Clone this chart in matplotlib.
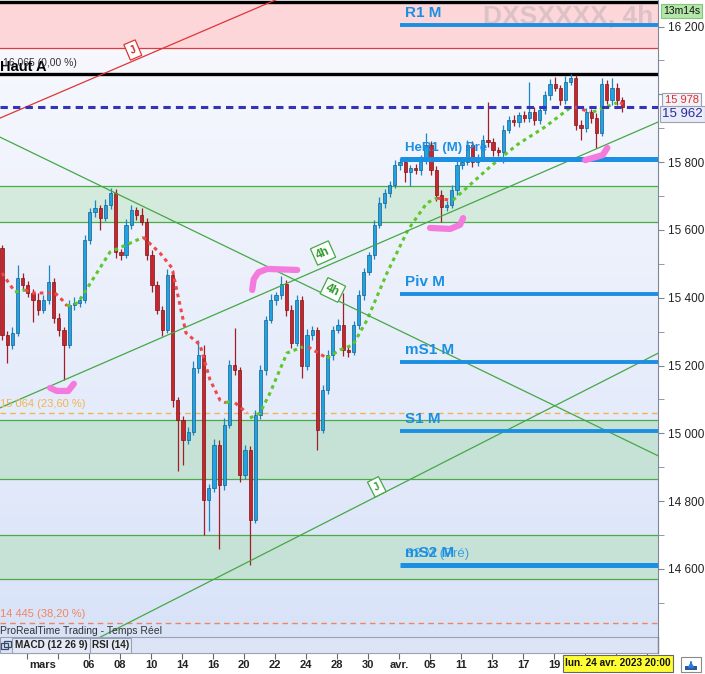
import matplotlib
matplotlib.use("Agg")
import matplotlib.pyplot as plt
import matplotlib.transforms as mtransforms
from matplotlib.patches import Rectangle
from matplotlib.colors import LinearSegmentedColormap
import numpy as np

plt.rcParams['font.family'] = ['Liberation Sans', 'DejaVu Sans']

# ---- candles (4h, three per trading day) ----
first_open = 15547
closes = [
    15290, 15261, 15296, 15458, 15438, 15414, 15394, 15364, 15394, 15447,
    15340, 15305, 15261, 15379, 15385, 15394, 15570, 15653, 15665, 15635,
    15674, 15709, 15535, 15526, 15615, 15659, 15644, 15624, 15526, 15438,
    15364, 15305, 15467, 15098, 15040, 14981, 15004, 15193, 15231, 14803,
    14839, 14966, 14848, 15025, 15202, 15187, 14877, 14951, 14745, 15054,
    15187, 15334, 15394, 15408, 15441, 15364, 15267, 15394, 15199, 15290,
    15305, 15010, 15128, 15231, 15305, 15320, 15246, 15240, 15320, 15408,
    15476, 15526, 15615, 15680, 15709, 15733, 15792, 15801, 15771, 15783,
    15777, 15806, 15851, 15777, 15703, 15668, 15674, 15718, 15792, 15801,
    15851, 15801, 15815, 15865, 15860, 15836, 15830, 15895, 15924, 15919,
    15939, 15930, 15948, 15924, 15954, 15998, 16031, 16019, 15983, 16037,
    16048, 15910, 15901, 15948, 15930, 15886, 16031, 15983, 16019, 15983,
    15962]
hi_wick = [
    10, 12, 18, 38, 15, 10, 12, 20, 15, 50,
    12, 15, 10, 14, 18, 10, 15, 12, 24, 10,
    16, 15, 12, 10, 18, 14, 10, 20, 12, 15,
    10, 12, 18, 15, 10, 12, 15, 20, 45, 30,
    12, 18, 15, 20, 14, 110, 10, 15, 12, 16,
    14, 12, 18, 10, 24, 12, 15, 14, 10, 18,
    12, 10, 15, 14, 12, 18, 95, 12, 10, 15,
    12, 10, 14, 16, 12, 10, 15, 12, 14, 10,
    12, 15, 35, 10, 12, 14, 10, 15, 12, 10,
    14, 12, 10, 15, 112, 12, 10, 14, 12, 16,
    10, 12, 88, 14, 10, 12, 15, 20, 10, 18,
    12, 10, 14, 12, 10, 15, 18, 12, 30, 14,
    10]
lo_wick = [
    15, 53, 12, 10, 15, 12, 65, 14, 10, 12,
    15, 18, 103, 10, 14, 12, 10, 12, 15, 35,
    10, 12, 18, 15, 10, 12, 14, 10, 15, 20,
    12, 18, 10, 20, 150, 75, 12, 10, 15, 103,
    90, 12, 190, 15, 10, 14, 20, 12, 133, 10,
    12, 14, 10, 15, 12, 18, 14, 10, 35, 12,
    15, 60, 10, 12, 14, 10, 18, 15, 10, 12,
    14, 10, 12, 10, 15, 12, 10, 14, 30, 40,
    12, 15, 10, 14, 18, 45, 12, 10, 14, 12,
    10, 15, 12, 10, 14, 18, 12, 32, 10, 12,
    14, 10, 12, 15, 10, 12, 14, 10, 15, 12,
    10, 14, 35, 12, 15, 45, 10, 12, 14, 15,
    14]

# trading-day index of the date labels (day 0 = 27 Feb)
label_days = [2, 5, 7, 9, 11, 13, 15, 17, 19, 21, 23, 25, 27, 29, 31, 33, 35]
label_text = ["mars", "06", "08", "10", "14", "16", "20", "22", "24", "28",
              "30", "avr.", "05", "11", "13", "17", "19"]
tick_days = list(range(1, 42, 2))

# monthly pivots (drawn from April)
apr_start = 77
piv_names = ["R1 M", "HeR1 (M) Pré", "Piv M", "mS1 M", "S1 M", "mS2 M"]
piv_vals = [16205, 15809, 15411, 15210, 15007, 14612]
piv_lw = [2.8, 3.6, 2.8, 2.8, 2.8, 3.6]

# zones
green_zones = [(15624, 15730), (14865, 15040), (14570, 14700)]
green_fill = ['#d3eadc', '#c6e2d7', '#c6e2d7']
red_zone = (16137, 16272)
haut_a = 16060
last_price = 15962
other_price = 15978
fib_vals = [15060, 14440]
fib_text = ["15 064 (23,60 %)", "14 445 (38,20 %)"]
fib_cols = ['#f2b452', '#ef8562']

# trend lines: (x0, y0, x1, y1)
green_lines = [(-0.4, 15874, 127, 14933),
               (-0.4, 15075, 127, 15919),
               (-0.4, 14248, 127, 15237)]
red_line = (-0.4, 15930, 60, 16325)

# moving stop (dotted), coloured segments
sar_segments = [
    ('r', [0, 2.51], [15473, 15417]),
    ('g', [2.51, 4.45], [15417, 15423]),
    ('r', [4.45, 6.0, 10.25, 11.6, 12.57], [15423, 15414, 15414, 15394, 15376]),
    ('g', [12.57, 14.7, 20.9, 26.1, 27.27], [15376, 15385, 15535, 15570, 15579]),
    ('r', [27.27, 30.56, 32.88, 35.59, 38.3, 40.23, 42.17, 43.33],
          [15579, 15532, 15488, 15296, 15261, 15158, 15098, 15090]),
    ('g', [43.33, 44.49], [15090, 15098]),
    ('r', [45.07, 47.39], [15090, 15060]),
    ('g', [47.97, 49.9, 51.84, 55.13, 58.22], [15045, 15060, 15119, 15237, 15255]),
    ('r', [59.19, 62.86], [15255, 15222]),
    ('g', [62.86, 65.38, 67.89, 70.6, 74.47, 78.53, 82.2, 84.14],
          [15222, 15246, 15261, 15334, 15473, 15600, 15680, 15694]),
    ('r', [84.14, 86.65], [15694, 15688]),
    ('g', [87.23, 94.39, 99.61, 105.03, 109.86], [15688, 15786, 15851, 15904, 15960]),
    ('r', [110.83, 113.73], [15963, 15948]),
    ('g', [114.31, 118.96], [15948, 15975]),
    ('r', [119.54, 120.12], [15975, 15972]),
]

# hand-drawn highlight strokes
pink_marks = [
    ([9.3, 10.6, 12.8, 13.9], [15134, 15125, 15125, 15146]),
    ([48.4, 48.7, 49.6, 51.3, 57.1], [15423, 15455, 15475, 15485, 15482]),
    ([82.8, 86.7, 88.6, 89.2], [15606, 15603, 15615, 15635]),
    ([112.8, 116.2, 117.1], [15806, 15821, 15842]),
]

xmin, xmax = -0.39, 126.9
ymin, ymax = 14399, 16278.5

fig = plt.figure(figsize=(7.05, 6.74), dpi=100)
ax = fig.add_axes([0, 37 / 674, 658 / 705, 637 / 674])

# background gradient
grad = np.linspace(0, 1, 256).reshape(-1, 1)
cmap = LinearSegmentedColormap.from_list('bg', ['#d9e3f8', '#f9fafe'])
ax.imshow(grad, extent=[xmin, xmax, ymin, ymax], aspect='auto', cmap=cmap,
          origin='lower', zorder=0)

ax.axhspan(red_zone[0], red_zone[1], color='#fdd6da', zorder=1, lw=0)
ax.axhline(red_zone[0], color='#e0393e', lw=0.9, zorder=2)
ax.axhline(red_zone[1], color='black', lw=2.4, zorder=2)
ax.axhline(haut_a, color='black', lw=2.4, zorder=2)
for (lo, hi), fc in zip(green_zones, green_fill):
    ax.axhspan(lo, hi, color=fc, zorder=1, lw=0)
    ax.axhline(lo, color='#4aab47', lw=0.9, zorder=2)
    ax.axhline(hi, color='#4aab47', lw=0.9, zorder=2)
for v, c in zip(fib_vals, fib_cols):
    ax.axhline(v, color=c, lw=1, ls=(0, (4, 3)), zorder=2)

# watermark
ax.text(0.993, 0.992, "DXSXXXX, 4h", transform=ax.transAxes, ha='right', va='top',
        fontsize=19, fontweight='bold', color='#dcc2c7', zorder=2)

# candles
x = np.arange(len(closes))
c = np.array(closes, dtype=float)
o = np.concatenate([[first_open], c[:-1]])
hi = np.maximum(o, c) + np.array(hi_wick)
lo = np.minimum(o, c) - np.array(lo_wick)
up = c >= o
body = np.where(up, '#20a3e3', '#c8262d')
edge = np.where(up, '#17608f', '#7d1519')
wick = np.where(up, '#1b86c6', '#a11e24')
ax.vlines(x, lo, hi, colors=wick, lw=0.9, zorder=4)
ax.bar(x, c - o, bottom=o, width=0.62, color=body, edgecolor=edge, lw=0.5, zorder=5)

# trend lines
for x0, y0, x1, y1 in green_lines:
    ax.plot([x0, x1], [y0, y1], color='#45a845', lw=0.9, zorder=5.5)
ax.plot(red_line[::2], red_line[1::2], color='#e03535', lw=0.9, zorder=5.5)

# moving stop
for col, sx, sy in sar_segments:
    ax.plot(sx, sy, color='#5cc82b' if col == 'g' else '#ef4a4a', lw=2.2,
            ls=(0, (1.2, 1.3)), zorder=5.3)

# pivots
for name, v, w in zip(piv_names, piv_vals, piv_lw):
    ax.hlines(v, apr_start, xmax, color='#1b8fe2', lw=w, zorder=6)
    fs = 9.5 if 'Pré' in name else 11
    ax.text(apr_start + 0.9, v + 14, name, color='#1b8fe2', fontsize=fs,
            fontweight='bold', va='bottom', ha='left', zorder=6)
ax.text(apr_start + 0.9, piv_vals[-1] + 14, "S2 M (Pré)", color='#1b8fe2', fontsize=9.5,
        va='bottom', ha='left', zorder=6, alpha=0.8)

ax.axhline(last_price, color='#3434b8', lw=2.2, ls=(0, (2.4, 1.7)), zorder=6)

# highlight strokes
for px, py in pink_marks:
    ax.plot(px, py, color='#f47ade', lw=4.5, solid_capstyle='round',
            solid_joinstyle='round', zorder=7)

# line tags
tag = dict(boxstyle='square,pad=0.25', fc='white', ec='#45a845', lw=0.9)
ax.text(62.1, 15532, "4h", rotation=24, color='#2e9a2e', fontsize=8.5, fontweight='bold',
        ha='center', va='center', bbox=tag, zorder=7)
ax.text(64.0, 15423, "4h", rotation=-26, color='#2e9a2e', fontsize=8.5, fontweight='bold',
        ha='center', va='center', bbox=tag, zorder=7)
ax.text(72.5, 14842, "J", rotation=27, color='#2e9a2e', fontsize=7, fontweight='bold',
        ha='center', va='center', bbox=dict(tag, boxstyle='square,pad=0.35'), zorder=7)
ax.text(25.3, 16131, "J", rotation=23, color='#d02020', fontsize=7, fontweight='bold',
        ha='center', va='center',
        bbox=dict(boxstyle='square,pad=0.35', fc='white', ec='#e03535', lw=0.9), zorder=7)

# left texts
left = mtransforms.blended_transform_factory(ax.transAxes, ax.transData)
ax.text(0.0, haut_a + 22, "Haut A", transform=left, fontsize=10.5, fontweight='bold',
        color='black', va='center', ha='left', zorder=7)
ax.text(0.004, haut_a + 33, "16 065 (0,00 %)", transform=left, fontsize=7.5,
        color='#333333', va='center', ha='left', zorder=7)
for v, t, col in zip(fib_vals, fib_text, fib_cols):
    ax.text(0.0, v + 12, t, transform=left, fontsize=8, color=col, va='bottom',
            ha='left', zorder=7)

# axes styling
ax.set_xlim(xmin, xmax)
ax.set_ylim(ymin, ymax)
ax.set_xticks([])
ax.yaxis.tick_right()
major = list(range(14600, 16201, 200))
ax.set_yticks(major)
ax.set_yticklabels(["" if v == 16000 else f"{v:,}".replace(',', ' ') for v in major])
ax.set_yticks(range(14500, 16201, 100), minor=True)
ax.tick_params(axis='y', which='both', length=4, color='#7f8899', labelsize=8.5,
               pad=3, labelcolor='#222222')
for s in ['top', 'left', 'bottom']:
    ax.spines[s].set_visible(False)
ax.spines['right'].set_color('#7f8899')

trans = mtransforms.blended_transform_factory(ax.transAxes, ax.transData)
ax.text(1.01, other_price - 10, "15 978", transform=trans, color='#e03030', fontsize=8,
        va='bottom', ha='left', clip_on=False, zorder=8,
        bbox=dict(boxstyle='square,pad=0.22', fc='#f1f2f7', ec='#9aa2b2', lw=0.8))
ax.text(1.006, last_price - 3, "15 962", transform=trans, color='#2a2aa0', fontsize=9.5,
        va='top', ha='left', clip_on=False, zorder=8,
        bbox=dict(boxstyle='square,pad=0.15', fc='#e9ebf8', ec='#9aa2b2', lw=0.8))
ax.text(1.008, 0.99, "13m14s", transform=ax.transAxes, color='#111111', fontsize=7.5,
        va='top', ha='left', clip_on=False, zorder=8,
        bbox=dict(boxstyle='square,pad=0.2', fc='#b3e6a9', ec='#86c57b', lw=0.8))

# date row
axd = fig.add_axes([0, 0, 658 / 705, 21 / 674])
axd.set_facecolor('white')
axd.set_xlim(xmin, xmax)
axd.set_ylim(0, 1)
axd.set_yticks([])
axd.set_xticks([3 * d + 1.84 for d in tick_days])
axd.xaxis.set_ticks_position('top')
axd.tick_params(axis='x', direction='in', length=4, color='#666666', labeltop=False,
                labelbottom=False)
for s in axd.spines.values():
    s.set_visible(False)
for d, t in zip(label_days, label_text):
    axd.text(3 * d + 1.84, 0.45, t, ha='center', va='center', fontsize=8,
             fontweight='bold', color='#222222')

# frame chrome in pixel coordinates
ov = fig.add_axes([0, 0, 1, 1], facecolor='none')
ov.set_xlim(0, 705)
ov.set_ylim(674, 0)
ov.axis('off')
ov.add_patch(Rectangle((0, 637), 658, 16, fc='#dce4f6', ec='#9aa3b5', lw=0.8))
ov.add_patch(Rectangle((12, 638), 78, 15, fc='#e4e9f5', ec='#9aa3b5', lw=0.8))
ov.add_patch(Rectangle((90, 638), 41, 15, fc='#e4e9f5', ec='#9aa3b5', lw=0.8))
ov.add_patch(Rectangle((1, 643), 7, 6, fc='none', ec='#3a4a6a', lw=0.9))
ov.add_patch(Rectangle((4, 641), 7, 6, fc='none', ec='#3a4a6a', lw=0.9))
ov.text(51, 645.5, "MACD (12 26 9)", ha='center', va='center', fontsize=7.2,
        fontweight='bold', color='#222222')
ov.text(110.5, 645.5, "RSI (14)", ha='center', va='center', fontsize=7.2,
        fontweight='bold', color='#222222')
ov.text(0, 631, "ProRealTime Trading - Temps Réel", ha='left', va='center', fontsize=7.5,
        color='#333333')
ov.plot([658, 658], [637, 653], color='#7f8899', lw=1)
ov.add_patch(Rectangle((563, 655), 110, 17, fc='#ffff33', ec='#666666', lw=0.8))
ov.text(618, 663.5, "lun. 24 avr. 2023 20:00", ha='center', va='center', fontsize=7.2,
        fontweight='bold', color='#111111')
ov.add_patch(Rectangle((681, 657), 20, 15, fc='white', ec='#8a8a8a', lw=0.8))
ov.add_patch(Rectangle((685, 666), 12, 4, fc='#2a5a9a', ec='none'))
ov.annotate('', xy=(691, 658.5), xytext=(691, 665.5),
            arrowprops=dict(arrowstyle='-|>', color='#2a7ad8', lw=1.4, mutation_scale=7))

fig.savefig('out.png', dpi=100)
